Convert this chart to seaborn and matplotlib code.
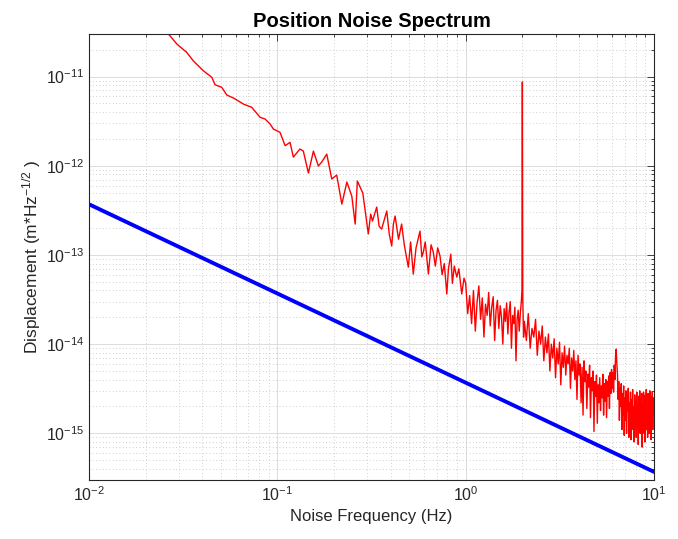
import numpy as np
import pandas as pd
import matplotlib
matplotlib.use("Agg")
import matplotlib.pyplot as plt
import matplotlib.ticker as mticker
import seaborn as sns

# ── Data (displacement values in fm/sqrt(Hz), i.e. x 1e-15)
freq_low = [0.0238, 0.0293, 0.0330, 0.0358, 0.0405, 0.0449, 0.0467, 0.0507, 0.0539, 0.0589,
            0.0660, 0.0731, 0.0810, 0.0861, 0.0915, 0.0953, 0.1033, 0.110, 0.1168, 0.1216, 0.1318]
disp_low = [39000, 23100, 18700, 15000, 11600, 9800, 8090, 7570, 6210, 5700,
            4920, 4520, 3490, 3340, 2940, 2580, 2370, 1680, 1830, 1250, 1540]

freq_mid = [0.1374, 0.1462, 0.1554, 0.1651, 0.172, 0.183, 0.1945, 0.2066, 0.220, 0.234,
            0.2485, 0.259, 0.266, 0.2843, 0.304, 0.313, 0.32, 0.337, 0.347, 0.358,
            0.37, 0.381, 0.393, 0.405, 0.413, 0.422, 0.44, 0.457, 0.472, 0.496,
            0.51, 0.527, 0.545, 0.572, 0.585, 0.596, 0.61, 0.634, 0.655, 0.673,
            0.69, 0.71, 0.731, 0.75, 0.77, 0.794, 0.81, 0.834, 0.85, 0.87,
            0.897, 0.92, 0.953, 0.98]
disp_mid = [1460, 828, 1460, 993, 1100, 1350, 710, 787, 372, 657,
            457, 222, 674, 494, 172, 287, 240, 344, 210, 195,
            250, 311, 170, 126, 220, 273, 150, 222, 130, 73,
            140, 61, 120, 185, 95, 108, 140, 61, 130, 108,
            75, 120, 97, 60, 80, 36.5, 70, 102, 48, 75,
            56.5, 70, 36.5, 55]

freq_a = [1.000, 1.025, 1.050, 1.075, 1.100, 1.125, 1.150, 1.175, 1.200, 1.225,
          1.250, 1.275, 1.300, 1.325, 1.350, 1.375, 1.400, 1.425, 1.450, 1.475,
          1.500, 1.525, 1.550, 1.575, 1.600, 1.625, 1.650, 1.675, 1.700, 1.725,
          1.750, 1.775, 1.800, 1.825, 1.850, 1.875, 1.900, 1.925, 1.950, 1.975,
          1.990, 2.000, 2.010, 2.030]
disp_a = [48, 22, 35, 17, 40, 14, 30, 45, 19, 33,
          12, 28, 21, 38, 16, 26, 34, 11, 24, 31,
          15, 27, 20, 10, 25, 18, 29, 13, 23, 30,
          9, 21, 17, 26, 6.5, 19, 24, 14, 22, 30,
          40, 8700, 32, 12]

freq_b = [2.05, 2.10, 2.15, 2.20, 2.25, 2.30, 2.35, 2.40, 2.45, 2.50,
          2.55, 2.60, 2.65, 2.70, 2.75, 2.80, 2.85, 2.90, 2.95, 3.00,
          3.05, 3.10, 3.15, 3.20, 3.25, 3.30, 3.35, 3.40, 3.45, 3.50,
          3.55, 3.60, 3.65, 3.70, 3.75, 3.80, 3.85, 3.90, 3.95, 4.00,
          4.05, 4.10, 4.15, 4.20, 4.25, 4.30, 4.35, 4.40, 4.45, 4.50,
          4.55, 4.60, 4.65, 4.70, 4.75, 4.80, 4.85, 4.90, 4.95, 5.00,
          5.05, 5.10, 5.15, 5.20, 5.25, 5.30, 5.35, 5.40, 5.45, 5.50,
          5.55, 5.60, 5.65, 5.70, 5.75, 5.80, 5.85, 5.90, 5.95, 6.00]
disp_b = [18, 11, 22, 9, 15, 12, 19, 7.5, 14, 10,
          16, 6.5, 12, 8, 13, 5, 10, 7, 11.5, 4.2,
          9, 6, 10.5, 3.5, 8, 5.5, 9.5, 4.5, 7.5, 6,
          9, 3.2, 7, 5, 8.5, 4, 6.5, 2.4, 7.5, 4.5,
          6, 2.2, 5.5, 1.6, 6.5, 3.8, 5, 1.9, 4.6, 3.3,
          5.8, 1.5, 4.2, 3, 5, 1.05, 3.8, 2.6, 4.5, 1.3,
          3.5, 2.2, 4.2, 1.8, 3.4, 2.5, 4.6, 1.6, 3.6, 2.3,
          4.0, 1.5, 3.8, 2.6, 4.4, 1.9, 4.8, 2.8, 5.2, 3.2]

freq_c = [6.05, 6.10, 6.15, 6.20, 6.25, 6.30, 6.35, 6.40, 6.45, 6.50,
          6.55, 6.60, 6.65, 6.70, 6.75, 6.80, 6.85, 6.90, 6.95, 7.00,
          7.05, 7.10, 7.15, 7.20, 7.25, 7.30, 7.35, 7.40, 7.45, 7.50,
          7.55, 7.60, 7.65, 7.70, 7.75, 7.80, 7.85, 7.90, 7.95, 8.00,
          8.05, 8.10, 8.15, 8.20, 8.25, 8.30, 8.35, 8.40, 8.45, 8.50,
          8.55, 8.60, 8.65, 8.70, 8.75, 8.80, 8.85, 8.90, 8.95, 9.00,
          9.05, 9.10, 9.15, 9.20, 9.25, 9.30, 9.35, 9.40, 9.45, 9.50,
          9.55, 9.60, 9.65, 9.70, 9.75, 9.80, 9.85, 9.90, 9.95, 10.00]
disp_c = [4.8, 2.9, 5.8, 4.0, 7.5, 8.8, 6.0, 4.6, 2.4, 3.8,
          1.4, 3.2, 2.0, 3.6, 1.1, 2.8, 1.6, 3.4, 0.95, 2.5,
          1.4, 3.0, 1.0, 2.6, 1.8, 3.2, 0.9, 2.2, 1.3, 2.9,
          0.85, 2.4, 1.6, 3.1, 1.1, 2.0, 0.8, 2.7, 1.5, 2.3,
          0.9, 2.9, 1.2, 2.1, 0.75, 2.6, 1.4, 3.0, 1.0, 2.4,
          1.7, 2.8, 0.7, 2.2, 1.3, 2.9, 1.0, 2.5, 0.8, 2.7,
          1.5, 3.1, 1.1, 2.3, 0.9, 2.8, 1.6, 2.4, 1.0, 3.0,
          1.3, 2.6, 0.85, 2.3, 1.4, 2.9, 1.1, 2.5, 1.6, 2.2]

# requirement line
freq_req = [0.01, 10.0]
disp_req = [3.7e-13, 3.7e-16]

x_decades = [1e-2, 1e-1, 1e0, 1e1]
y_decades = [1e-15, 1e-14, 1e-13, 1e-12, 1e-11]
x_labels = ["$10^{-2}$", "$10^{-1}$", "$10^{0}$", "$10^{1}$"]
y_labels = ["$10^{-15}$", "$10^{-14}$", "$10^{-13}$", "$10^{-12}$", "$10^{-11}$"]

noise = pd.DataFrame({
    "freq": freq_low + freq_mid + freq_a + freq_b + freq_c,
    "disp": np.array(disp_low + disp_mid + disp_a + disp_b + disp_c) * 1e-15,
})
req = pd.DataFrame({"freq": freq_req, "disp": disp_req})

# ── Style
sns.set_theme(style="white")
plt.rcParams["font.family"] = ["Liberation Sans", "DejaVu Sans"]
plt.rcParams["mathtext.fontset"] = "custom"
plt.rcParams["mathtext.rm"] = "Liberation Sans"
plt.rcParams["mathtext.it"] = "Liberation Sans:italic"
plt.rcParams["mathtext.bf"] = "Liberation Sans:bold"
plt.rcParams["axes.unicode_minus"] = False

fig = plt.figure(figsize=(6.78, 5.39), dpi=100)
ax = fig.add_axes([0.1313, 0.1095, 0.8333, 0.8274])

sns.lineplot(data=noise, x="freq", y="disp", ax=ax, color="#ff0000",
             linewidth=1.0, estimator=None, sort=False)
sns.lineplot(data=req, x="freq", y="disp", ax=ax, color="#0000ff",
             linewidth=2.8, estimator=None, sort=False)

ax.set_xscale("log")
ax.set_yscale("log")
xlim = (1e-2, 1e1)
ylim = (3e-16, 3e-11)

# minor ticks at 2..9 of each decade, kept inside the limits
x_minor = [m * d for d in [1e-2, 1e-1, 1e0] for m in range(2, 10)]
y_minor = [m * d for d in [1e-16, 1e-15, 1e-14, 1e-13, 1e-12, 1e-11] for m in range(2, 10)
           if ylim[0] <= m * d <= ylim[1]]

ax.set_xticks(x_decades, x_labels)
ax.set_yticks(y_decades, y_labels)
ax.set_xticks(x_minor, minor=True)
ax.set_yticks(y_minor, minor=True)
ax.xaxis.set_minor_formatter(mticker.NullFormatter())
ax.yaxis.set_minor_formatter(mticker.NullFormatter())
ax.set_xlim(*xlim)
ax.set_ylim(*ylim)

ax.grid(which="major", color="#dcdcdc", linewidth=0.7, linestyle="-")
ax.grid(which="minor", color="#c0c0c0", linewidth=0.6, linestyle=(0, (1, 3)))
ax.set_axisbelow(True)

ax.tick_params(which="both", direction="in", top=True, right=True,
               colors="#262626", labelcolor="#262626", width=0.6)
ax.tick_params(which="major", length=5, labelsize=11.5)
ax.tick_params(which="minor", length=2.5)
for s in ax.spines.values():
    s.set_color("#262626")
    s.set_linewidth(0.8)

ax.set_title("Position Noise Spectrum", fontsize=14.5, fontweight="bold", pad=5,
             color="black")
ax.set_xlabel("Noise Frequency (Hz)", fontsize=12, color="#262626")
ax.set_ylabel(r"Displacement (m*Hz$^{-1/2}$ )", fontsize=12.5, color="#262626",
              labelpad=2)

fig.savefig("out.png", dpi=100)
